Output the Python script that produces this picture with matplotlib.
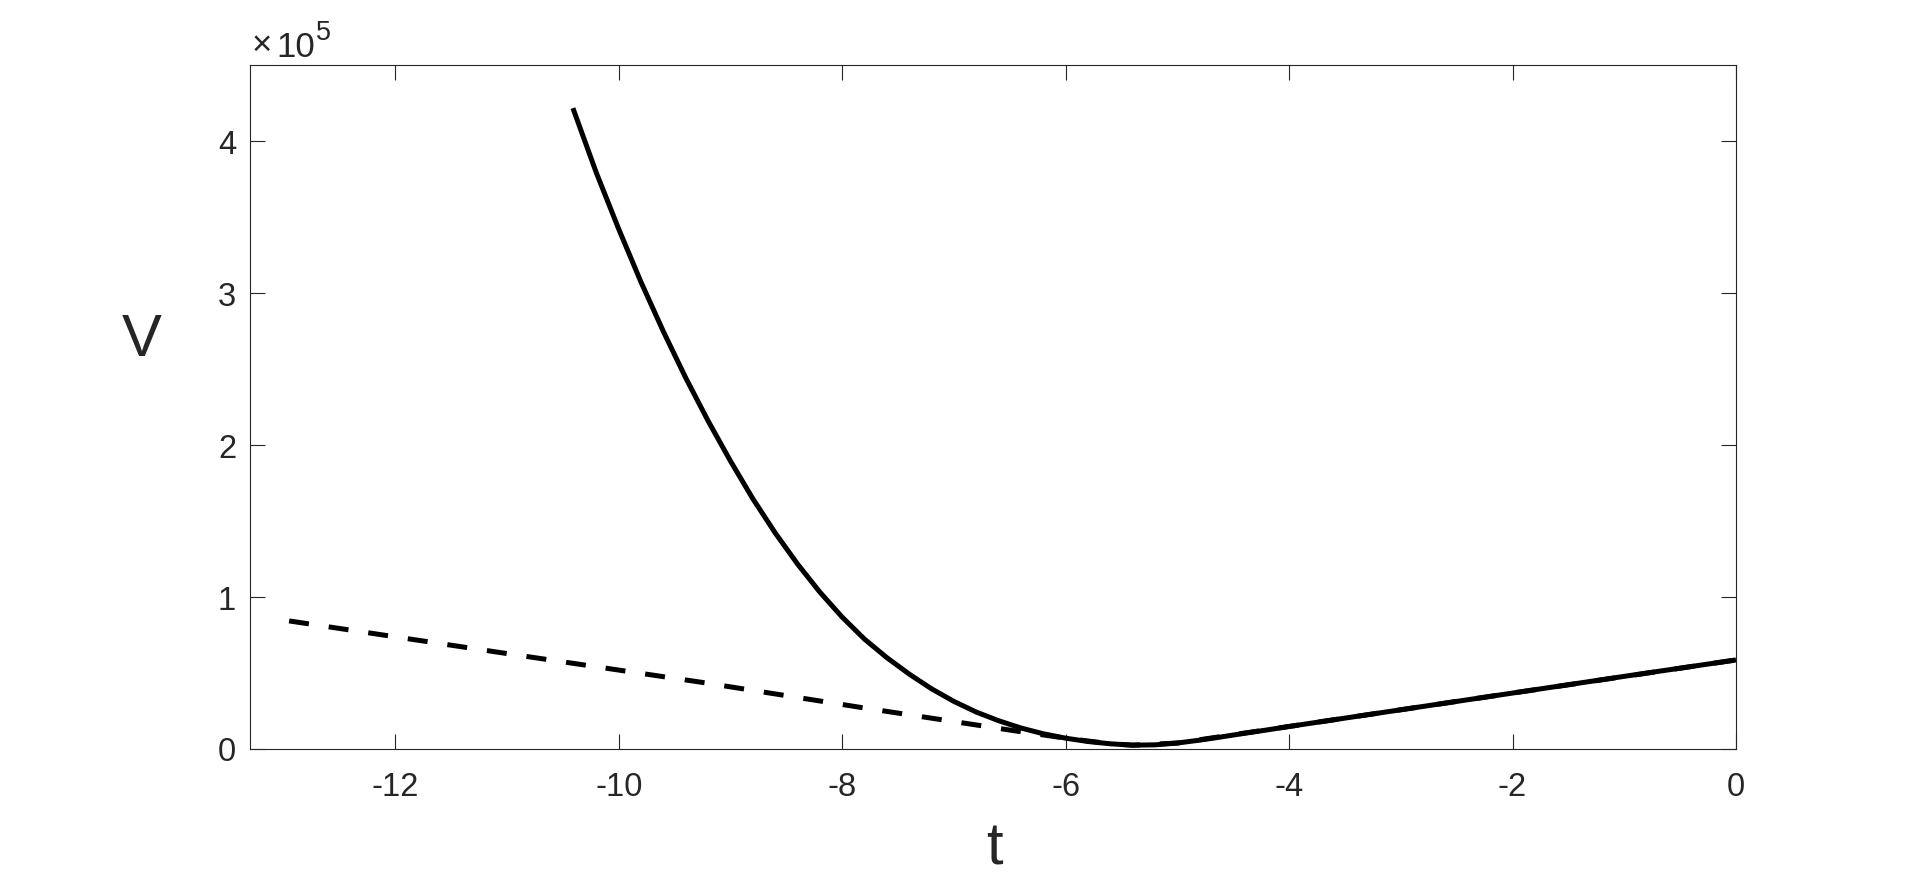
import matplotlib
matplotlib.use("Agg")
import matplotlib.pyplot as plt
from matplotlib.ticker import FuncFormatter, FixedLocator

# ---- data (V in units of 1e5) ----
t_solid = [-10.41, -10.2, -10.0, -9.8, -9.6, -9.4, -9.2, -9.0, -8.8, -8.6,
           -8.4, -8.2, -8.0, -7.8, -7.6, -7.4, -7.2, -7.0, -6.8, -6.6,
           -6.4, -6.2, -6.0, -5.8, -5.6, -5.4, -5.2, -5.0, -4.8, -4.6,
           -4.4, -4.2, -4.0, -3.5, -3.0, -2.5, -2.0, -1.5, -1.0, -0.5, 0.0]
v_solid = [4.216, 3.79, 3.42, 3.07, 2.745, 2.44, 2.157, 1.893, 1.645, 1.42,
           1.215, 1.03, 0.865, 0.72, 0.598, 0.49, 0.393, 0.31, 0.24, 0.183,
           0.135, 0.097, 0.068, 0.046, 0.031, 0.022, 0.024, 0.036, 0.055, 0.077,
           0.100, 0.122, 0.145, 0.200, 0.255, 0.310, 0.365, 0.420, 0.475, 0.529, 0.583]

t_dashed = [-12.95, -11.0, -9.26, -7.83, -6.46, -6.0, -5.6, -5.4, -5.0, -4.0, -2.0, 0.0]
v_dashed = [0.840, 0.625, 0.436, 0.270, 0.117, 0.068, 0.031, 0.022, 0.036, 0.145, 0.365, 0.583]

x_ticks = [-12, -10, -8, -6, -4, -2, 0]
y_ticks = [0, 1, 2, 3, 4]
x_label = "t"
y_label = "V"
exp_times = "\u00d7"
exp_base = "10"
exp_power = "5"

plt.rcParams['font.family'] = ['Liberation Sans', 'DejaVu Sans']

W, H = 1920, 879
fig = plt.figure(figsize=(W / 100, H / 100), dpi=100)
ax = fig.add_axes([250 / W, 1 - 749.5 / H, (1736 - 250) / W, (749.5 - 66) / H])

tc = '#262626'
ax.plot(t_dashed, v_dashed, color='black', lw=3.6, dashes=(4, 4),
        dash_capstyle='butt', zorder=2)
ax.plot(t_solid, v_solid, color='black', lw=3.6, solid_capstyle='butt',
        solid_joinstyle='round', zorder=3)

ax.set_xlim(-13.3, 0)
ax.set_ylim(0, 4.5)
ax.xaxis.set_major_locator(FixedLocator(x_ticks))
ax.yaxis.set_major_locator(FixedLocator(y_ticks))
ax.xaxis.set_major_formatter(FuncFormatter(lambda v, p: f"{v:g}"))
ax.yaxis.set_major_formatter(FuncFormatter(lambda v, p: f"{v:g}"))

ax.tick_params(direction='in', length=10.5, width=0.8, colors=tc, labelsize=23.5,
               top=True, right=True, labelcolor=tc)
ax.tick_params(axis='x', pad=16)
ax.tick_params(axis='y', pad=10)
for s in ax.spines.values():
    s.set_color(tc)
    s.set_linewidth(0.8)

fig.text(994 / W, 1 - 865 / H, x_label, fontsize=43, color=tc, ha='center', va='baseline')
fig.text(142 / W, 1 - 356 / H, y_label, fontsize=43, color=tc, ha='center', va='baseline')
fig.text(252 / W, 1 - 55 / H, exp_times, fontsize=25, color=tc, ha='left', va='baseline')
fig.text(276 / W, 1 - 57.3 / H, exp_base, fontsize=25, color=tc, ha='left', va='baseline')
fig.text(316 / W, 1 - 40 / H, exp_power, fontsize=19.5, color=tc, ha='left', va='baseline')

fig.savefig("out.png", dpi=100)
